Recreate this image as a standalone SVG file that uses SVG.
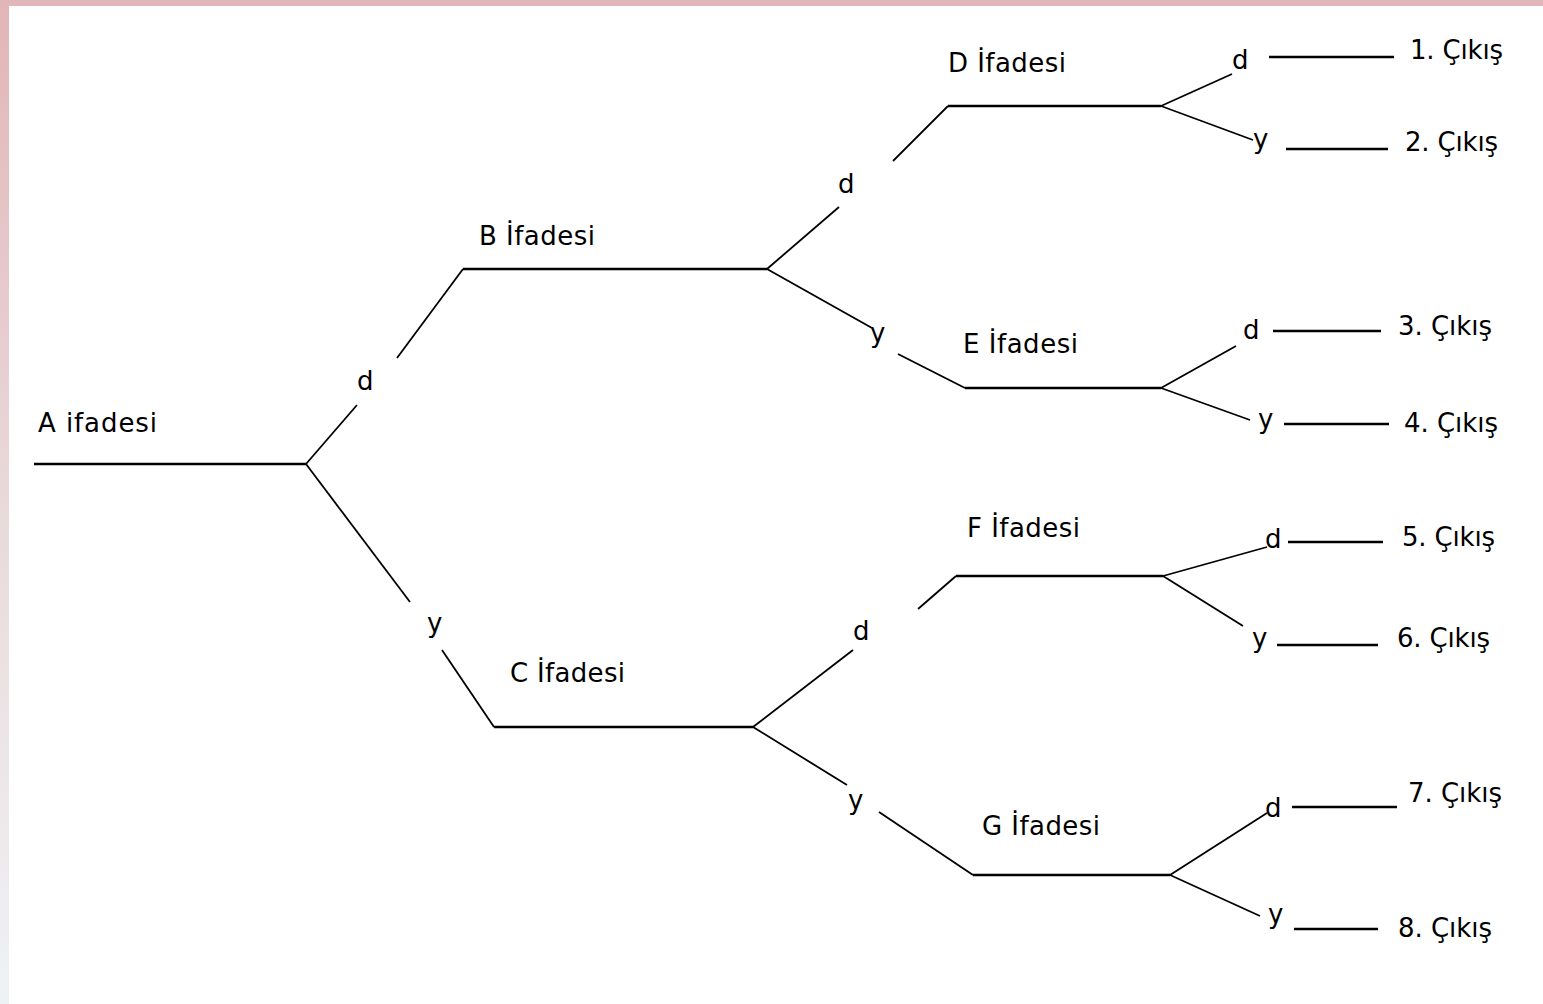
<svg xmlns="http://www.w3.org/2000/svg" width="1543" height="1004" viewBox="0 0 1543 1004">
<defs>
<linearGradient id="edge" x1="0" y1="0" x2="0" y2="1">
<stop offset="0" stop-color="#e2b5b7"/>
<stop offset="0.5" stop-color="#e9d9db"/>
<stop offset="1" stop-color="#eff2f4"/>
</linearGradient>
<style>
.t{font-family:"DejaVu Sans","Liberation Sans",sans-serif;font-size:26px;fill:#000}
.h{stroke:#000;stroke-width:2.5;fill:none}
.c{stroke:#000;stroke-width:1.8;fill:none}
</style>
</defs>
<rect x="0" y="0" width="1543" height="1004" fill="#ffffff"/>
<rect x="0" y="0" width="9" height="1004" fill="url(#edge)"/>
<rect x="0" y="0" width="1543" height="6" fill="#e2b6b8"/>

<g id="nodeA"><line class="h" x1="34" y1="464" x2="306" y2="464"/><text class="t" x="38" y="432" textLength="119">A ifadesi</text></g>
<g id="nodeB"><line class="h" x1="463" y1="269" x2="767" y2="269"/><text class="t" x="479" y="245" textLength="116">B İfadesi</text></g>
<g id="nodeC"><line class="h" x1="494" y1="727" x2="753" y2="727"/><text class="t" x="510" y="682" textLength="115">C İfadesi</text></g>
<g id="nodeD"><line class="h" x1="948" y1="106" x2="1161" y2="106"/><text class="t" x="948" y="72" textLength="118">D İfadesi</text></g>
<g id="nodeE"><line class="h" x1="965" y1="388" x2="1161" y2="388"/><text class="t" x="963" y="353" textLength="115">E İfadesi</text></g>
<g id="nodeF"><line class="h" x1="956" y1="576" x2="1163" y2="576"/><text class="t" x="967" y="537" textLength="113">F İfadesi</text></g>
<g id="nodeG"><line class="h" x1="973" y1="875" x2="1170" y2="875"/><text class="t" x="982" y="835" textLength="118">G İfadesi</text></g>

<g id="out1"><line class="h" x1="1269" y1="57" x2="1394" y2="57"/><text class="t" x="1410" y="59" textLength="93">1. Çıkış</text></g>
<g id="out2"><line class="h" x1="1286" y1="149" x2="1388" y2="149"/><text class="t" x="1405" y="151" textLength="93">2. Çıkış</text></g>
<g id="out3"><line class="h" x1="1273" y1="331" x2="1381" y2="331"/><text class="t" x="1398" y="335" textLength="94">3. Çıkış</text></g>
<g id="out4"><line class="h" x1="1284" y1="424" x2="1389" y2="424"/><text class="t" x="1404" y="432" textLength="94">4. Çıkış</text></g>
<g id="out5"><line class="h" x1="1288" y1="542" x2="1383" y2="542"/><text class="t" x="1402" y="546" textLength="93">5. Çıkış</text></g>
<g id="out6"><line class="h" x1="1277" y1="645" x2="1378" y2="645"/><text class="t" x="1397" y="647" textLength="93">6. Çıkış</text></g>
<g id="out7"><line class="h" x1="1292" y1="807" x2="1397" y2="807"/><text class="t" x="1408" y="802" textLength="94">7. Çıkış</text></g>
<g id="out8"><line class="h" x1="1294" y1="929" x2="1378" y2="929"/><text class="t" x="1398" y="937" textLength="94">8. Çıkış</text></g>

<g id="connectors">
<line class="c" x1="306" y1="464" x2="357" y2="405"/><line class="c" x1="397" y1="358" x2="463" y2="269"/><text class="t" x="357" y="390">d</text>
<line class="c" x1="306" y1="464" x2="410" y2="602"/><line class="c" x1="442" y1="650" x2="494" y2="727"/><text class="t" x="427" y="632">y</text>
<line class="c" x1="767" y1="269" x2="839" y2="207"/><line class="c" x1="893" y1="161" x2="948" y2="106"/><text class="t" x="838" y="193">d</text>
<line class="c" x1="767" y1="269" x2="872" y2="328"/><line class="c" x1="898" y1="354" x2="965" y2="388"/><text class="t" x="870" y="342">y</text>
<line class="c" x1="753" y1="727" x2="853" y2="650"/><line class="c" x1="918" y1="609" x2="956" y2="576"/><text class="t" x="853" y="640">d</text>
<line class="c" x1="753" y1="727" x2="847" y2="785"/><line class="c" x1="879" y1="812" x2="973" y2="875"/><text class="t" x="848" y="809">y</text>
<line class="c" x1="1161" y1="106" x2="1232" y2="74"/><text class="t" x="1232" y="69">d</text>
<line class="c" x1="1161" y1="106" x2="1253" y2="140"/><text class="t" x="1253" y="148">y</text>
<line class="c" x1="1161" y1="388" x2="1236" y2="346"/><text class="t" x="1243" y="339">d</text>
<line class="c" x1="1161" y1="388" x2="1250" y2="420"/><text class="t" x="1258" y="428">y</text>
<line class="c" x1="1163" y1="576" x2="1267" y2="547"/><text class="t" x="1265" y="548">d</text>
<line class="c" x1="1163" y1="576" x2="1243" y2="626"/><text class="t" x="1252" y="647">y</text>
<line class="c" x1="1170" y1="875" x2="1267" y2="813"/><text class="t" x="1265" y="817">d</text>
<line class="c" x1="1170" y1="875" x2="1260" y2="916"/><text class="t" x="1268" y="923">y</text>
</g>
</svg>
